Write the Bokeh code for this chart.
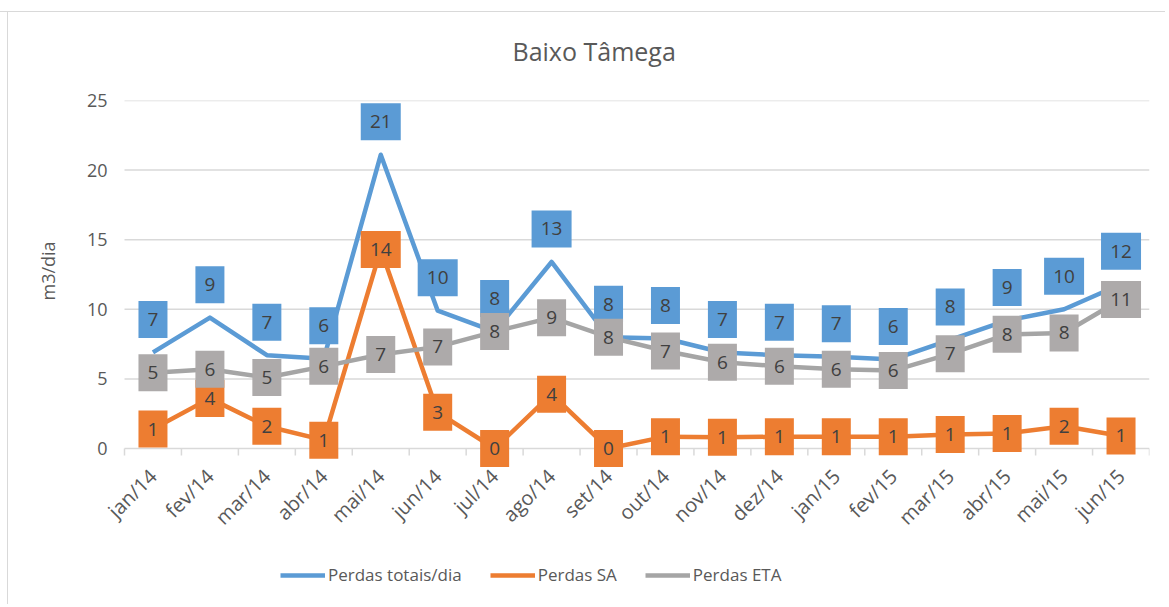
import math
from bokeh.plotting import figure
from bokeh.models import ColumnDataSource, Range1d, FixedTicker, Legend, LegendItem, Title
from bokeh.core.properties import value
from bokeh.embed import file_html
from bokeh.resources import INLINE

months = ["jan/14", "fev/14", "mar/14", "abr/14", "mai/14", "jun/14", "jul/14", "ago/14",
          "set/14", "out/14", "nov/14", "dez/14", "jan/15", "fev/15", "mar/15", "abr/15",
          "mai/15", "jun/15"]
perdas_totais = [6.9, 9.4, 6.7, 6.45, 21.1, 9.9, 8.4, 13.4, 8.0, 7.9, 6.9, 6.7, 6.6, 6.4, 7.8, 9.2, 10.0, 11.8]
perdas_sa = [1.4, 3.6, 1.6, 0.6, 14.3, 2.6, 0.0, 3.9, 0.0, 0.85, 0.8, 0.85, 0.85, 0.85, 1.0, 1.08, 1.6, 0.9]
perdas_eta = [5.45, 5.7, 5.1, 5.9, 6.75, 7.3, 8.4, 9.4, 8.0, 7.0, 6.2, 5.9, 5.7, 5.6, 6.8, 8.2, 8.3, 10.7]
series_names = ["Perdas totais/dia", "Perdas SA", "Perdas ETA"]
y_ticks = [0, 5, 10, 15, 20, 25]

FONT = "Open Sans"
TXT = "#595959"
AXC = "#d9d9d9"
BLUE, ORANGE, GRAY = "#5B9BD5", "#ED7D31", "#A5A5A5"
GRAY_BOX = "#ADAAAA"

N = len(months)
PLOT_W = 1025         # width of the category span in px
px_per_cat = PLOT_W / N
LEFT_PX = 20          # room left of the first category for its slanted label
x_min = -LEFT_PX / px_per_cat

PLOT_H = 348          # height of the 0..25 span in px
Y_MAX = 25
px_per_unit = PLOT_H / Y_MAX
BELOW_PX = 152        # room under the zero line: month labels and legend
y_min = -BELOW_PX / px_per_unit

p = figure(frame_width=PLOT_W + LEFT_PX, frame_height=PLOT_H + BELOW_PX,
           x_range=Range1d(x_min, N), y_range=Range1d(y_min, Y_MAX),
           output_backend="svg", toolbar_location=None,
           min_border_left=124 - LEFT_PX, min_border_right=16, min_border_top=100, min_border_bottom=4,
           title="Baixo Tâmega", background_fill_color="white", border_fill_alpha=0,
           styles={"background-color": "white",
                   "background-image": "linear-gradient(#d9d9d9,#d9d9d9), linear-gradient(#d9d9d9,#d9d9d9)",
                   "background-size": "100% 1px, 1px 100%",
                   "background-position": "0 11px, 7px 11px",
                   "background-repeat": "no-repeat"})
p.outline_line_color = None

p.title.text_font = FONT
p.title.text_font_size = "25px"
p.title.text_font_style = "normal"
p.title.text_color = TXT
p.title.align = "left"
p.title.vertical_align = "middle"
p.title.offset = 388 + LEFT_PX
p.title.standoff = 64

xs = [i + 0.5 for i in range(N)]
bounds = list(range(N + 1))

# x axis drawn at the zero line: month labels only
p.xaxis.fixed_location = 0
p.xaxis.ticker = FixedTicker(ticks=xs)
p.xaxis.major_label_overrides = {x: m for x, m in zip(xs, months)}
p.xaxis.major_label_orientation = math.pi / 4
p.xaxis.major_tick_line_color = None
p.xaxis.minor_tick_line_color = None
p.xaxis.major_tick_out = 0
p.xaxis.major_tick_in = 0
p.xaxis.minor_tick_out = 0
p.xaxis.minor_tick_in = 0
p.xaxis.axis_line_color = None
p.xaxis.major_label_text_font = FONT
p.xaxis.major_label_text_font_size = "20px"
p.xaxis.major_label_text_color = TXT
p.xaxis.major_label_standoff = 24

p.yaxis.ticker = FixedTicker(ticks=y_ticks)
p.yaxis.axis_line_color = None
p.yaxis.major_tick_line_color = None
p.yaxis.minor_tick_line_color = None
p.yaxis.major_tick_out = 0
p.yaxis.minor_tick_out = 0
p.yaxis.major_label_text_font = FONT
p.yaxis.major_label_text_font_size = "18px"
p.yaxis.major_label_text_color = TXT
p.yaxis.major_label_standoff = -3

ytitle = Title(text="m3/dia", align="left", vertical_align="middle", offset=300, standoff=46,
               text_font=FONT, text_font_size="18px", text_font_style="normal", text_color=TXT)
p.add_layout(ytitle, "left")

p.xgrid.grid_line_color = None
p.ygrid.grid_line_color = None

# horizontal gridlines over the category span
p.segment(x0=[0] * len(y_ticks), y0=y_ticks, x1=[N] * len(y_ticks), y1=y_ticks,
          line_color=AXC, line_width=1.5)
# category boundary tick marks under the zero line
p.segment(x0=bounds, y0=[0] * len(bounds), x1=bounds, y1=[-7 / px_per_unit] * len(bounds),
          line_color=AXC, line_width=1.5)

def labels_of(vals):
    return [str(int(math.floor(v + 0.5))) for v in vals]

series = [(perdas_totais, BLUE, BLUE, 33), (perdas_sa, ORANGE, ORANGE, 0), (perdas_eta, GRAY, GRAY_BOX, 0)]

line_renderers = []
for vals, col, _, _ in series:
    r = p.line(xs, vals, line_color=col, line_width=4.5, line_join="round")
    line_renderers.append(r)

for vals, col, boxcol, off in series:
    labs = labels_of(vals)
    src = ColumnDataSource(dict(
        x=xs,
        y=[v + off / px_per_unit for v in vals],
        t=labs,
        w=[29 if len(s) == 1 else 40 for s in labs],
    ))
    p.rect(x="x", y="y", width="w", height=37, width_units="screen", height_units="screen",
           source=src, fill_color=boxcol, line_color=None)
    p.text(x="x", y="y", text="t", source=src, text_font=value(FONT), text_font_size="19px",
           text_align="center", text_baseline="middle", text_color="#404040")

legend = Legend(items=[LegendItem(label=n, renderers=[r]) for n, r in zip(series_names, line_renderers)],
                orientation="horizontal", location=(156 + LEFT_PX, 14))
legend.border_line_color = None
legend.background_fill_alpha = 0
legend.margin = 0
legend.padding = 5
legend.spacing = 28
legend.glyph_width = 45
legend.label_standoff = 3
legend.label_text_font = FONT
legend.label_text_font_size = "17px"
legend.label_text_color = TXT
p.add_layout(legend, "center")

open("out.html", "w").write(file_html(p, INLINE))
